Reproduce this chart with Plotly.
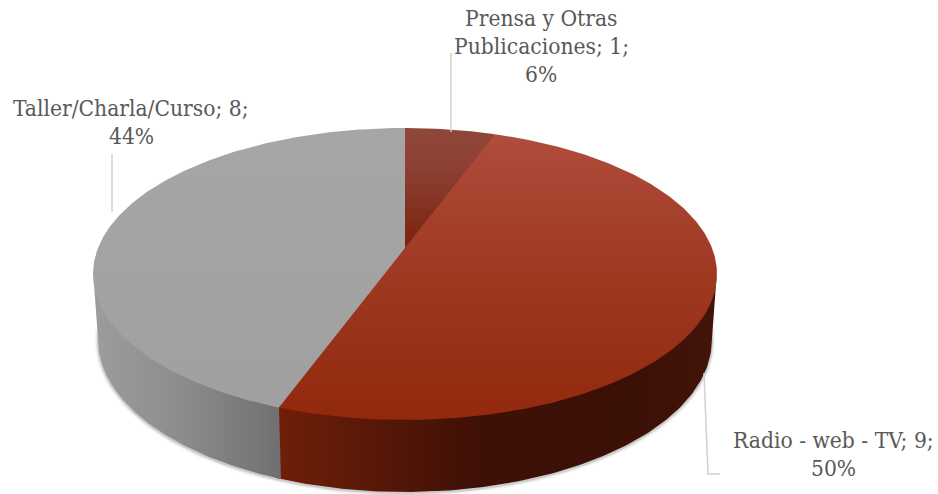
import numpy as np
import plotly.graph_objects as go

categories = ["Prensa y Otras<br>Publicaciones", "Radio - web - TV", "Taller/Charla/Curso"]
values = [1, 9, 8]

# Projected disc (perspective view of the pie), in canvas-sized axis units
CX, CY, R, TILT = 405.0, 248.0, 307.0, 0.178
TOP_A = -97.2
RIM_R, RIM_B, RIM_A = 302.0, 312.8, -91.6


def top_xy(deg, k=1.0):
    t = np.radians(deg)
    u, v = k * np.sin(t), k * np.cos(t)
    w = 1 + TILT * v
    return CX + R * u / w, (CY + TOP_A * v) / w


def rim_xy(deg):
    t = np.radians(deg)
    u, v = np.sin(t), np.cos(t)
    w = 1 + TILT * v
    return CX + RIM_R * u / w, (RIM_B + RIM_A * v) / w


edges = np.concatenate([[0], np.cumsum(values)]) / sum(values) * 360
fig = go.Figure()


def poly(x, y, gradient):
    fig.add_trace(go.Scatter(x=x, y=y, mode="lines", fill="toself", line=dict(width=0),
                             fillgradient=gradient, hoverinfo="skip", showlegend=False))


# soft shadow under the lower rim
sdeg = np.linspace(96, 264, 160)
sx, sy = rim_xy(sdeg)
for w, a in [(7, 0.05), (4, 0.09), (2, 0.14)]:
    fig.add_trace(go.Scatter(x=sx, y=sy + 1, mode="lines", line=dict(width=w, color=f"rgba(60,60,60,{a})"),
                             hoverinfo="skip", showlegend=False))

# side walls (the Radio wall runs slightly under the grey one, and both run under the top face)
VIS_A, VIS_B = 100.3, 259.7
wall_grads = {
    1: dict(type="horizontal", start=278, stop=717,
            colorscale=[[0, "#701f09"], [0.15, "#5f1a08"], [0.45, "#3f1006"], [0.8, "#3b1007"], [1, "#431409"]]),
    2: dict(type="horizontal", start=95, stop=282,
            colorscale=[[0, "#9c9c9c"], [0.45, "#8d8d8d"], [1, "#6f6f6f"]]),
}
for i, g in wall_grads.items():
    a, b = max(edges[i], VIS_A), min(edges[i + 1] + (1 if i == 1 else 0), VIS_B)
    if a >= b:
        continue
    d = np.linspace(a, b, 120)
    tx, ty = top_xy(d)
    bx, by = rim_xy(d[::-1])
    poly(np.r_[tx, bx], np.r_[ty - 3, by], g)

# underlay that hides hairline seams between the top faces
ud = np.linspace(0, 360, 240)
ux, uy = top_xy(ud, 0.985)
fig.add_trace(go.Scatter(x=ux, y=uy, mode="lines", fill="toself", line=dict(width=0),
                         fillcolor="#8f3f2c", hoverinfo="skip", showlegend=False))

# top faces
top_grads = [
    dict(type="vertical", start=128, stop=248,
         colorscale=[[0, "#904639"], [0.3, "#8d4234"], [1, "#7a220d"]]),
    dict(type="vertical", start=130, stop=420,
         colorscale=[[0, "#b04d3c"], [0.45, "#a03a24"], [1, "#92290d"]]),
    dict(type="vertical", start=128, stop=408,
         colorscale=[[0, "#a6a6a6"], [1, "#a0a0a0"]]),
]
for i, g in enumerate(top_grads):
    d = np.linspace(edges[i], edges[i + 1], 240)
    x, y = top_xy(d)
    poly(np.r_[CX, x, CX], np.r_[CY, y, CY], g)

# leader lines
leaders = [([451, 451], [132, 53]),
           ([704, 708, 720], [373, 474, 474]),
           ([112, 112], [212, 154])]
for lx, ly in leaders:
    fig.add_trace(go.Scatter(x=lx, y=ly, mode="lines", line=dict(color="#d4d1c6", width=1.5),
                             hoverinfo="skip", showlegend=False))

label_pos = [(541, 18), (833, 440), (131, 108)]
for c, v, (lx, ly) in zip(categories, values, label_pos):
    p = round(v / sum(values) * 100)
    lines = f"{c}; {v};<br>{p}%".split("<br>")
    for n, line in enumerate(lines):
        fig.add_annotation(x=lx, y=ly + 28 * n, xref="x", yref="y", showarrow=False, align="center",
                           text=line,
                           font=dict(family="DejaVu Serif Condensed", size=22.6, color="#595959"))

fig.update_layout(width=938, height=494, margin=dict(l=0, r=0, t=0, b=0),
                  paper_bgcolor="white", plot_bgcolor="white", showlegend=False,
                  xaxis=dict(range=[0, 938], visible=False, fixedrange=True),
                  yaxis=dict(range=[494, 0], visible=False, fixedrange=True))
fig.write_html("out.html", post_script="document.body.style.margin='0';",
               config=dict(displayModeBar=False))
